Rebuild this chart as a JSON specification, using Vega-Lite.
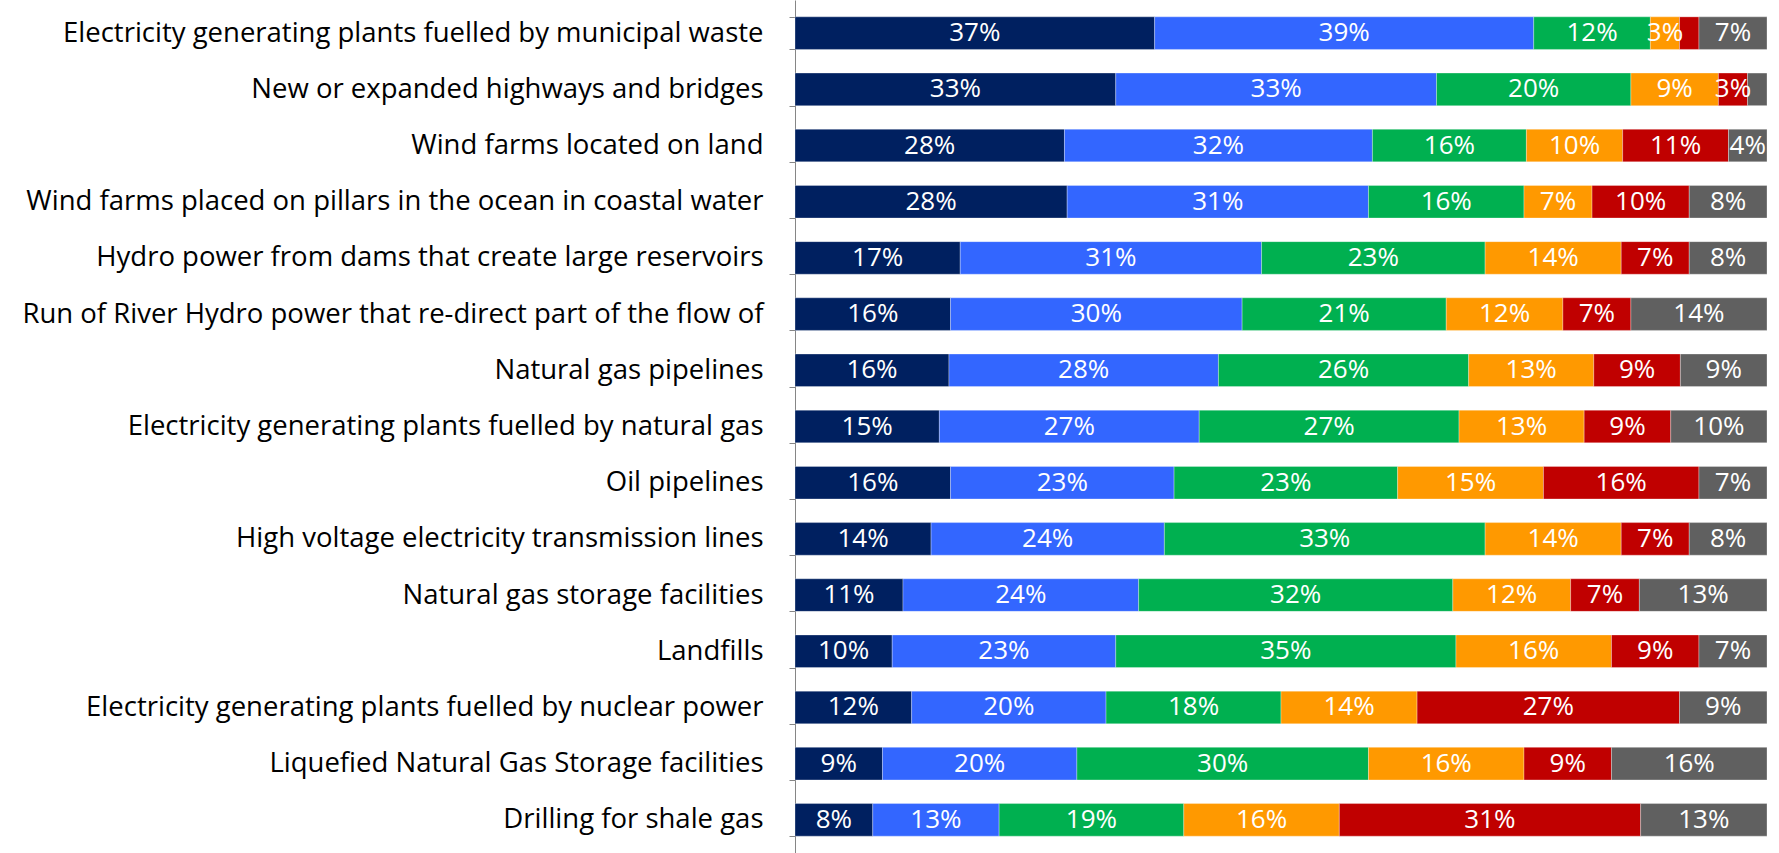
{
  "$schema": "https://vega.github.io/schema/vega-lite/v6.json",
  "width": 972,
  "height": 853,
  "autosize": {"type": "none"},
  "padding": {"left": 795, "top": 0, "right": 12, "bottom": 0},
  "background": "white",
  "config": {"view": {"stroke": null}, "font": "Open Sans"},
  "data": {"values": [
    {"item": "Electricity generating plants fuelled by municipal waste", "k": 1, "resp": "Strongly support", "share": 0.37},
    {"item": "Electricity generating plants fuelled by municipal waste", "k": 2, "resp": "Somewhat support", "share": 0.39},
    {"item": "Electricity generating plants fuelled by municipal waste", "k": 3, "resp": "Neutral", "share": 0.12},
    {"item": "Electricity generating plants fuelled by municipal waste", "k": 4, "resp": "Somewhat oppose", "share": 0.03},
    {"item": "Electricity generating plants fuelled by municipal waste", "k": 5, "resp": "Strongly oppose", "share": 0.02},
    {"item": "Electricity generating plants fuelled by municipal waste", "k": 6, "resp": "Don't know", "share": 0.07},
    {"item": "New or expanded highways and bridges", "k": 1, "resp": "Strongly support", "share": 0.33},
    {"item": "New or expanded highways and bridges", "k": 2, "resp": "Somewhat support", "share": 0.33},
    {"item": "New or expanded highways and bridges", "k": 3, "resp": "Neutral", "share": 0.20},
    {"item": "New or expanded highways and bridges", "k": 4, "resp": "Somewhat oppose", "share": 0.09},
    {"item": "New or expanded highways and bridges", "k": 5, "resp": "Strongly oppose", "share": 0.03},
    {"item": "New or expanded highways and bridges", "k": 6, "resp": "Don't know", "share": 0.02},
    {"item": "Wind farms located on land", "k": 1, "resp": "Strongly support", "share": 0.28},
    {"item": "Wind farms located on land", "k": 2, "resp": "Somewhat support", "share": 0.32},
    {"item": "Wind farms located on land", "k": 3, "resp": "Neutral", "share": 0.16},
    {"item": "Wind farms located on land", "k": 4, "resp": "Somewhat oppose", "share": 0.10},
    {"item": "Wind farms located on land", "k": 5, "resp": "Strongly oppose", "share": 0.11},
    {"item": "Wind farms located on land", "k": 6, "resp": "Don't know", "share": 0.04},
    {"item": "Wind farms placed on pillars in the ocean in coastal water", "k": 1, "resp": "Strongly support", "share": 0.28},
    {"item": "Wind farms placed on pillars in the ocean in coastal water", "k": 2, "resp": "Somewhat support", "share": 0.31},
    {"item": "Wind farms placed on pillars in the ocean in coastal water", "k": 3, "resp": "Neutral", "share": 0.16},
    {"item": "Wind farms placed on pillars in the ocean in coastal water", "k": 4, "resp": "Somewhat oppose", "share": 0.07},
    {"item": "Wind farms placed on pillars in the ocean in coastal water", "k": 5, "resp": "Strongly oppose", "share": 0.10},
    {"item": "Wind farms placed on pillars in the ocean in coastal water", "k": 6, "resp": "Don't know", "share": 0.08},
    {"item": "Hydro power from dams that create large reservoirs", "k": 1, "resp": "Strongly support", "share": 0.17},
    {"item": "Hydro power from dams that create large reservoirs", "k": 2, "resp": "Somewhat support", "share": 0.31},
    {"item": "Hydro power from dams that create large reservoirs", "k": 3, "resp": "Neutral", "share": 0.23},
    {"item": "Hydro power from dams that create large reservoirs", "k": 4, "resp": "Somewhat oppose", "share": 0.14},
    {"item": "Hydro power from dams that create large reservoirs", "k": 5, "resp": "Strongly oppose", "share": 0.07},
    {"item": "Hydro power from dams that create large reservoirs", "k": 6, "resp": "Don't know", "share": 0.08},
    {"item": "Run of River Hydro power that re-direct part of the flow of", "k": 1, "resp": "Strongly support", "share": 0.16},
    {"item": "Run of River Hydro power that re-direct part of the flow of", "k": 2, "resp": "Somewhat support", "share": 0.30},
    {"item": "Run of River Hydro power that re-direct part of the flow of", "k": 3, "resp": "Neutral", "share": 0.21},
    {"item": "Run of River Hydro power that re-direct part of the flow of", "k": 4, "resp": "Somewhat oppose", "share": 0.12},
    {"item": "Run of River Hydro power that re-direct part of the flow of", "k": 5, "resp": "Strongly oppose", "share": 0.07},
    {"item": "Run of River Hydro power that re-direct part of the flow of", "k": 6, "resp": "Don't know", "share": 0.14},
    {"item": "Natural gas pipelines", "k": 1, "resp": "Strongly support", "share": 0.16},
    {"item": "Natural gas pipelines", "k": 2, "resp": "Somewhat support", "share": 0.28},
    {"item": "Natural gas pipelines", "k": 3, "resp": "Neutral", "share": 0.26},
    {"item": "Natural gas pipelines", "k": 4, "resp": "Somewhat oppose", "share": 0.13},
    {"item": "Natural gas pipelines", "k": 5, "resp": "Strongly oppose", "share": 0.09},
    {"item": "Natural gas pipelines", "k": 6, "resp": "Don't know", "share": 0.09},
    {"item": "Electricity generating plants fuelled by natural gas", "k": 1, "resp": "Strongly support", "share": 0.15},
    {"item": "Electricity generating plants fuelled by natural gas", "k": 2, "resp": "Somewhat support", "share": 0.27},
    {"item": "Electricity generating plants fuelled by natural gas", "k": 3, "resp": "Neutral", "share": 0.27},
    {"item": "Electricity generating plants fuelled by natural gas", "k": 4, "resp": "Somewhat oppose", "share": 0.13},
    {"item": "Electricity generating plants fuelled by natural gas", "k": 5, "resp": "Strongly oppose", "share": 0.09},
    {"item": "Electricity generating plants fuelled by natural gas", "k": 6, "resp": "Don't know", "share": 0.10},
    {"item": "Oil pipelines", "k": 1, "resp": "Strongly support", "share": 0.16},
    {"item": "Oil pipelines", "k": 2, "resp": "Somewhat support", "share": 0.23},
    {"item": "Oil pipelines", "k": 3, "resp": "Neutral", "share": 0.23},
    {"item": "Oil pipelines", "k": 4, "resp": "Somewhat oppose", "share": 0.15},
    {"item": "Oil pipelines", "k": 5, "resp": "Strongly oppose", "share": 0.16},
    {"item": "Oil pipelines", "k": 6, "resp": "Don't know", "share": 0.07},
    {"item": "High voltage electricity transmission lines", "k": 1, "resp": "Strongly support", "share": 0.14},
    {"item": "High voltage electricity transmission lines", "k": 2, "resp": "Somewhat support", "share": 0.24},
    {"item": "High voltage electricity transmission lines", "k": 3, "resp": "Neutral", "share": 0.33},
    {"item": "High voltage electricity transmission lines", "k": 4, "resp": "Somewhat oppose", "share": 0.14},
    {"item": "High voltage electricity transmission lines", "k": 5, "resp": "Strongly oppose", "share": 0.07},
    {"item": "High voltage electricity transmission lines", "k": 6, "resp": "Don't know", "share": 0.08},
    {"item": "Natural gas storage facilities", "k": 1, "resp": "Strongly support", "share": 0.11},
    {"item": "Natural gas storage facilities", "k": 2, "resp": "Somewhat support", "share": 0.24},
    {"item": "Natural gas storage facilities", "k": 3, "resp": "Neutral", "share": 0.32},
    {"item": "Natural gas storage facilities", "k": 4, "resp": "Somewhat oppose", "share": 0.12},
    {"item": "Natural gas storage facilities", "k": 5, "resp": "Strongly oppose", "share": 0.07},
    {"item": "Natural gas storage facilities", "k": 6, "resp": "Don't know", "share": 0.13},
    {"item": "Landfills", "k": 1, "resp": "Strongly support", "share": 0.10},
    {"item": "Landfills", "k": 2, "resp": "Somewhat support", "share": 0.23},
    {"item": "Landfills", "k": 3, "resp": "Neutral", "share": 0.35},
    {"item": "Landfills", "k": 4, "resp": "Somewhat oppose", "share": 0.16},
    {"item": "Landfills", "k": 5, "resp": "Strongly oppose", "share": 0.09},
    {"item": "Landfills", "k": 6, "resp": "Don't know", "share": 0.07},
    {"item": "Electricity generating plants fuelled by nuclear power", "k": 1, "resp": "Strongly support", "share": 0.12},
    {"item": "Electricity generating plants fuelled by nuclear power", "k": 2, "resp": "Somewhat support", "share": 0.20},
    {"item": "Electricity generating plants fuelled by nuclear power", "k": 3, "resp": "Neutral", "share": 0.18},
    {"item": "Electricity generating plants fuelled by nuclear power", "k": 4, "resp": "Somewhat oppose", "share": 0.14},
    {"item": "Electricity generating plants fuelled by nuclear power", "k": 5, "resp": "Strongly oppose", "share": 0.27},
    {"item": "Electricity generating plants fuelled by nuclear power", "k": 6, "resp": "Don't know", "share": 0.09},
    {"item": "Liquefied Natural Gas Storage facilities", "k": 1, "resp": "Strongly support", "share": 0.09},
    {"item": "Liquefied Natural Gas Storage facilities", "k": 2, "resp": "Somewhat support", "share": 0.20},
    {"item": "Liquefied Natural Gas Storage facilities", "k": 3, "resp": "Neutral", "share": 0.30},
    {"item": "Liquefied Natural Gas Storage facilities", "k": 4, "resp": "Somewhat oppose", "share": 0.16},
    {"item": "Liquefied Natural Gas Storage facilities", "k": 5, "resp": "Strongly oppose", "share": 0.09},
    {"item": "Liquefied Natural Gas Storage facilities", "k": 6, "resp": "Don't know", "share": 0.16},
    {"item": "Drilling for shale gas", "k": 1, "resp": "Strongly support", "share": 0.08},
    {"item": "Drilling for shale gas", "k": 2, "resp": "Somewhat support", "share": 0.13},
    {"item": "Drilling for shale gas", "k": 3, "resp": "Neutral", "share": 0.19},
    {"item": "Drilling for shale gas", "k": 4, "resp": "Somewhat oppose", "share": 0.16},
    {"item": "Drilling for shale gas", "k": 5, "resp": "Strongly oppose", "share": 0.31},
    {"item": "Drilling for shale gas", "k": 6, "resp": "Don't know", "share": 0.13}
  ]},
  "transform": [
    {"stack": "share", "groupby": ["item"], "sort": [{"field": "k", "order": "ascending"}], "offset": "normalize", "as": ["s0", "s1"]},
    {"calculate": "(datum.s0 + datum.s1) / 2", "as": "smid"}
  ],
  "encoding": {
    "y": {
      "field": "item", "type": "nominal", "sort": null, "title": null,
      "scale": {"paddingInner": 0.42, "paddingOuter": 0.3},
      "axis": {
        "domainColor": "#868686", "tickColor": "#868686", "tickBand": "extent",
        "tickSize": 6, "labelFontSize": 27.5, "labelColor": "#000000",
        "labelPadding": 26, "labelLimit": 0, "labelFont": "Open Sans"
      }
    }
  },
  "layer": [
    {
      "mark": {"type": "bar", "stroke": "#ffffff", "strokeWidth": 0.5, "strokeOpacity": 0.6},
      "encoding": {
        "x": {"field": "s0", "type": "quantitative", "axis": null, "scale": {"domain": [0, 1], "nice": false}},
        "x2": {"field": "s1"},
        "color": {
          "field": "resp", "type": "nominal", "legend": null,
          "scale": {
            "domain": ["Strongly support", "Somewhat support", "Neutral", "Somewhat oppose", "Strongly oppose", "Don't know"],
            "range": ["#002060", "#3366FF", "#00B050", "#FF9900", "#C00000", "#606060"]
          }
        }
      }
    },
    {
      "mark": {"type": "text", "color": "white", "fontSize": 26, "font": "Open Sans", "align": "center", "baseline": "middle"},
      "encoding": {
        "x": {"field": "smid", "type": "quantitative"},
        "text": {"condition": {"test": "datum.share < 0.025", "value": ""}, "field": "share", "type": "quantitative", "format": ".0%"}
      }
    }
  ]
}
